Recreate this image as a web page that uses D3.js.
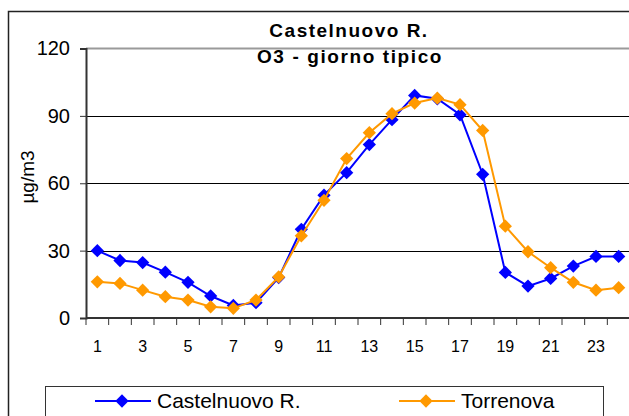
<!doctype html>
<html>
<head>
<meta charset="utf-8">
<title>Castelnuovo R. - O3 giorno tipico</title>
<style>
  body { margin: 0; background: #fff; }
  svg { display: block; font-family: "Liberation Sans", Arial, sans-serif; }
</style>
</head>
<body>
<svg width="629" height="416" id="chart"></svg>
<script src="https://d3js.org/d3.v7.min.js"></script>
<script>
// hours of the typical day
var hours = d3.range(1, 25);
var castelnuovo = [30, 25.6, 24.7, 20.4, 15.9, 9.8, 5.6, 6.8, 18, 39.5, 54.7, 64.7,
                   77.2, 88.3, 99.1, 97.6, 90.5, 64, 20.3, 14.2, 17.6, 23.1, 27.4, 27.4];
var torrenova   = [16.1, 15.4, 12.4, 9.5, 8, 5, 4.3, 8, 18.3, 36.6, 52.4, 71,
                   82.5, 91, 95.7, 97.9, 95, 83.5, 40.9, 29.5, 22.4, 15.9, 12.4, 13.5];
var yTicks = [0, 30, 60, 90, 120];
var xLabels = [1, 3, 5, 7, 9, 11, 13, 15, 17, 19, 21, 23];
var seriesNames = ["Castelnuovo R.", "Torrenova"];
var seriesColors = ["#0000ff", "#ff9900"];

var svg = d3.select("#chart");
var plotLeft = 86, plotRight = 630, plotTop = 48.5, plotBottom = 318;

var x = d3.scaleBand().domain(hours).range([plotLeft, plotRight]);
var y = d3.scaleLinear().domain([0, 120]).range([plotBottom, plotTop]);

// outer chart frame
svg.append("rect")
    .attr("x", 8.5).attr("y", 11.5).attr("width", 660).attr("height", 440)
    .attr("fill", "none").attr("stroke", "#222").attr("stroke-width", 1.5);

// plot area top border
svg.append("line")
    .attr("x1", plotLeft).attr("x2", plotRight).attr("y1", plotTop).attr("y2", plotTop)
    .attr("stroke", "#9a9a9a").attr("stroke-width", 2);

// gridlines
svg.append("g").selectAll("line")
    .data(yTicks.filter(function(d) { return d > 0 && d < 120; }))
    .enter().append("line")
    .attr("x1", plotLeft).attr("x2", plotRight)
    .attr("y1", function(d) { return Math.round(y(d)) + 0.5; })
    .attr("y2", function(d) { return Math.round(y(d)) + 0.5; })
    .attr("stroke", "#000").attr("stroke-width", 1);

// y axis
var yAxis = svg.append("g")
    .attr("transform", "translate(" + plotLeft + ",0)")
    .call(d3.axisLeft(y).tickValues(yTicks).tickSize(6).tickPadding(10));
yAxis.select(".domain").attr("stroke", "#333").attr("stroke-width", 2);
yAxis.selectAll(".tick line").attr("stroke", "#333");
yAxis.selectAll("text").attr("font-size", 20).attr("fill", "#000")
    .attr("font-family", "Liberation Sans, Arial, sans-serif");

// x axis: ticks between categories
var xAxisG = svg.append("g");
xAxisG.append("line")
    .attr("x1", plotLeft).attr("x2", plotRight).attr("y1", plotBottom).attr("y2", plotBottom)
    .attr("stroke", "#333").attr("stroke-width", 2);
xAxisG.selectAll("line.tk")
    .data(hours)
    .enter().append("line")
    .attr("class", "tk")
    .attr("x1", function(d) { return x(d); })
    .attr("x2", function(d) { return x(d); })
    .attr("y1", plotBottom).attr("y2", plotBottom + 7)
    .attr("stroke", "#333").attr("stroke-width", 1);
xAxisG.selectAll("text")
    .data(xLabels)
    .enter().append("text")
    .attr("x", function(d) { return x(d) + x.bandwidth() / 2; })
    .attr("y", 351.5)
    .attr("text-anchor", "middle")
    .attr("font-size", 16)
    .text(function(d) { return d; });

// axis title
svg.append("text")
    .attr("transform", "translate(34,177) rotate(-90)")
    .attr("text-anchor", "middle")
    .attr("font-size", 19)
    .text("µg/m3");

// titles
svg.append("text")
    .attr("x", 349).attr("y", 37)
    .attr("text-anchor", "middle")
    .attr("font-size", 19).attr("font-weight", "bold")
    .attr("letter-spacing", 1.5)
    .text("Castelnuovo R.");
svg.append("text")
    .attr("x", 350).attr("y", 63)
    .attr("text-anchor", "middle")
    .attr("font-size", 19).attr("font-weight", "bold")
    .attr("letter-spacing", 1.6)
    .text("O3 - giorno tipico");

// series
var series = [castelnuovo, torrenova];
var line = d3.line()
    .x(function(d, i) { return x(hours[i]) + x.bandwidth() / 2; })
    .y(function(d) { return y(d); });
var diamond = d3.symbol().type(d3.symbolSquare).size(88);

series.forEach(function(vals, s) {
  var g = svg.append("g");
  g.append("path")
      .attr("d", line(vals))
      .attr("fill", "none")
      .attr("stroke", seriesColors[s])
      .attr("stroke-width", 2);
  g.selectAll("path.pt")
      .data(vals)
      .enter().append("path")
      .attr("class", "pt")
      .attr("d", diamond)
      .attr("transform", function(d, i) {
        return "translate(" + (x(hours[i]) + x.bandwidth() / 2) + "," + y(d) + ") rotate(45)";
      })
      .attr("fill", seriesColors[s]);
});

// legend
var legend = svg.append("g");
legend.append("rect")
    .attr("x", 45.5).attr("y", 386.5).attr("width", 558).attr("height", 40)
    .attr("fill", "#fff").attr("stroke", "#333").attr("stroke-width", 1);
var legendX = [95, 399];
seriesNames.forEach(function(name, s) {
  var lx = legendX[s];
  legend.append("line")
      .attr("x1", lx).attr("x2", lx + 56).attr("y1", 401).attr("y2", 401)
      .attr("stroke", seriesColors[s]).attr("stroke-width", 2);
  legend.append("path")
      .attr("d", diamond)
      .attr("transform", "translate(" + (lx + 27) + ",401) rotate(45)")
      .attr("fill", seriesColors[s]);
  legend.append("text")
      .attr("x", lx + 62).attr("y", 408)
      .attr("font-size", 21)
      .text(name);
});
</script>
</body>
</html>
